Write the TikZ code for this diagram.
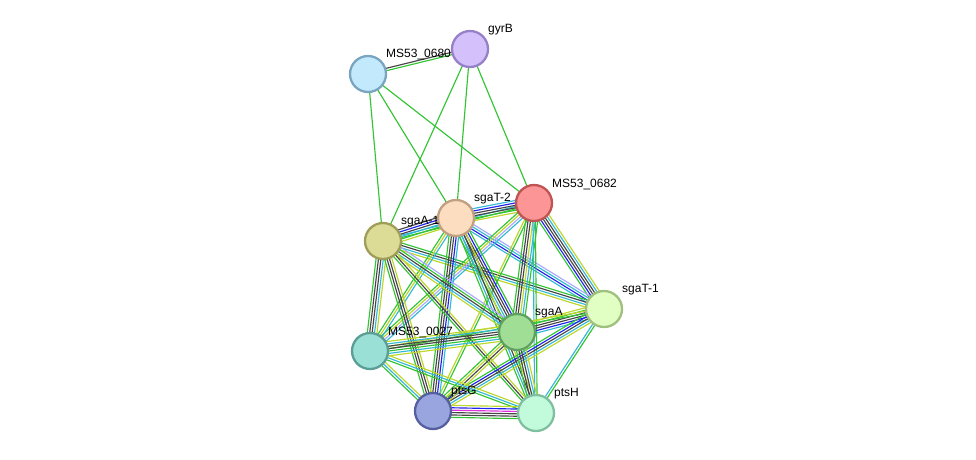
\documentclass[tikz,border=0pt]{standalone}
\usepackage{fontspec}
\setmainfont{Liberation Sans}
\usetikzlibrary{calc}
\pgfdeclarelayer{background}
\pgfsetlayers{background,main}
\definecolor{eG}{HTML}{33C433}
\definecolor{eB}{HTML}{2222EE}
\definecolor{eK}{HTML}{464646}
\definecolor{eC}{HTML}{33B9D6}
\definecolor{eY}{HTML}{BCD62A}
\definecolor{eM}{HTML}{DD33DD}
\definecolor{eH}{HTML}{A9A9FF}
\newcommand\medge[4]{%
  \foreach \cc [count=\ii] in {#4}{%
    \pgfmathsetmacro\off{(\ii-1-(#3-1)/2)*2.4}%
    \draw[\cc, edgeline] ($(#1)!\off pt!90:(#2)$) -- ($(#2)!\off pt!-90:(#1)$);
  }%
}
\tikzset{
  edgeline/.style={line width=1.15pt},
  prot/.style={circle, minimum size=36pt, inner sep=0pt, line width=2.3pt},
  lbl/.style={anchor=west, font=\fontsize{12}{14}\selectfont, inner sep=0pt}
}
\begin{document}
\begin{tikzpicture}[x=1pt,y=-1pt]
\useasboundingbox (0,0) rectangle (976,459);
\node[prot, fill={rgb,255:red,195;green,233;blue,252}, draw={rgb,255:red,122;green,165;blue,192}] (M0) at (368,74) {};
\node[prot, fill={rgb,255:red,212;green,193;blue,252}, draw={rgb,255:red,150;green,128;blue,200}] (GY) at (470,49) {};
\node[prot, fill={rgb,255:red,252;green,149;blue,149}, draw={rgb,255:red,192;green,84;blue,84}] (M2) at (534,203) {};
\node[prot, fill={rgb,255:red,253;green,221;blue,192}, draw={rgb,255:red,192;green,160;blue,128}] (T2) at (456,218) {};
\node[prot, fill={rgb,255:red,221;green,220;blue,150}, draw={rgb,255:red,158;green,158;blue,88}] (A1) at (383,241) {};
\node[prot, fill={rgb,255:red,225;green,254;blue,195}, draw={rgb,255:red,160;green,192;blue,128}] (T1) at (604,309) {};
\node[prot, fill={rgb,255:red,160;green,222;blue,149}, draw={rgb,255:red,96;green,160;blue,96}] (SA) at (517,332) {};
\node[prot, fill={rgb,255:red,154;green,224;blue,214}, draw={rgb,255:red,90;green,158;blue,150}] (M7) at (370,351) {};
\node[prot, fill={rgb,255:red,153;green,165;blue,222}, draw={rgb,255:red,86;green,96;blue,160}] (PG) at (433,411) {};
\node[prot, fill={rgb,255:red,194;green,251;blue,219}, draw={rgb,255:red,128;green,192;blue,160}] (PH) at (536,413) {};
\node[lbl] (lM0) at (386,54) {MS53\_0680};
\node[lbl] (lGY) at (488,30) {gyrB};
\node[lbl] (lM2) at (552,184) {MS53\_0682};
\node[lbl] (lT2) at (474,199) {sgaT-2};
\node[lbl] (lA1) at (401,222) {sgaA-1};
\node[lbl] (lT1) at (622,290) {sgaT-1};
\node[lbl] (lSA) at (535,313) {sgaA};
\node[lbl] (lM7) at (388,332) {MS53\_0027};
\node[lbl] (lPG) at (451,392) {ptsG};
\node[lbl] (lPH) at (554,394) {ptsH};
\begin{pgfonlayer}{background}
\medge{M0}{GY}{2}{eG,eK}
\medge{M0}{A1}{1}{eG}
\medge{M0}{T2}{1}{eG}
\medge{M0}{M2}{1}{eG}
\medge{GY}{A1}{1}{eG}
\medge{GY}{T2}{1}{eG}
\medge{GY}{M2}{1}{eG}
\medge{A1}{M2}{2}{eG,eC}
\medge{A1}{T2}{6}{eY,eG,eC,eK,eB,eK}
\medge{T2}{M2}{6}{eY,eG,eK,eK,eB,eC}
\medge{M2}{T1}{6}{eG,eB,eK,eK,eC,eY}
\medge{T2}{T1}{4}{eC,eB,eC,eH}
\medge{A1}{T1}{4}{eY,eC,eK,eG}
\medge{M2}{SA}{6}{eG,eK,eK,eY,eC,eG}
\medge{M2}{M7}{4}{eG,eY,eH,eC}
\medge{M2}{PG}{2}{eY,eG}
\medge{M2}{PH}{2}{eC,eG}
\medge{T2}{SA}{6}{eG,eC,eK,eK,eB,eG}
\medge{T2}{M7}{3}{eG,eY,eC}
\medge{T2}{PG}{5}{eG,eK,eK,eB,eC}
\medge{T2}{PH}{4}{eG,eC,eK,eY}
\medge{A1}{SA}{5}{eY,eC,eK,eG,eH}
\medge{A1}{M7}{5}{eG,eK,eK,eC,eY}
\medge{A1}{PG}{4}{eG,eK,eK,eY}
\medge{A1}{PH}{3}{eG,eK,eY}
\medge{T1}{SA}{6}{eY,eG,eK,eK,eB,eC}
\medge{T1}{M7}{2}{eY,eG}
\medge{T1}{PG}{5}{eG,eB,eK,eC,eY}
\medge{T1}{PH}{2}{eC,eG}
\medge{SA}{M7}{7}{eY,eC,eK,eK,eG,eC,eY}
\medge{SA}{PG}{4}{eG,eY,eK,eY}
\medge{SA}{PH}{5}{eG,eK,eK,eC,eY}
\medge{M7}{PG}{3}{eG,eC,eY}
\medge{M7}{PH}{3}{eG,eC,eY}
\medge{PG}{PH}{6}{eG,eK,eK,eM,eB,eY}
\end{pgfonlayer}
\end{tikzpicture}
\end{document}
